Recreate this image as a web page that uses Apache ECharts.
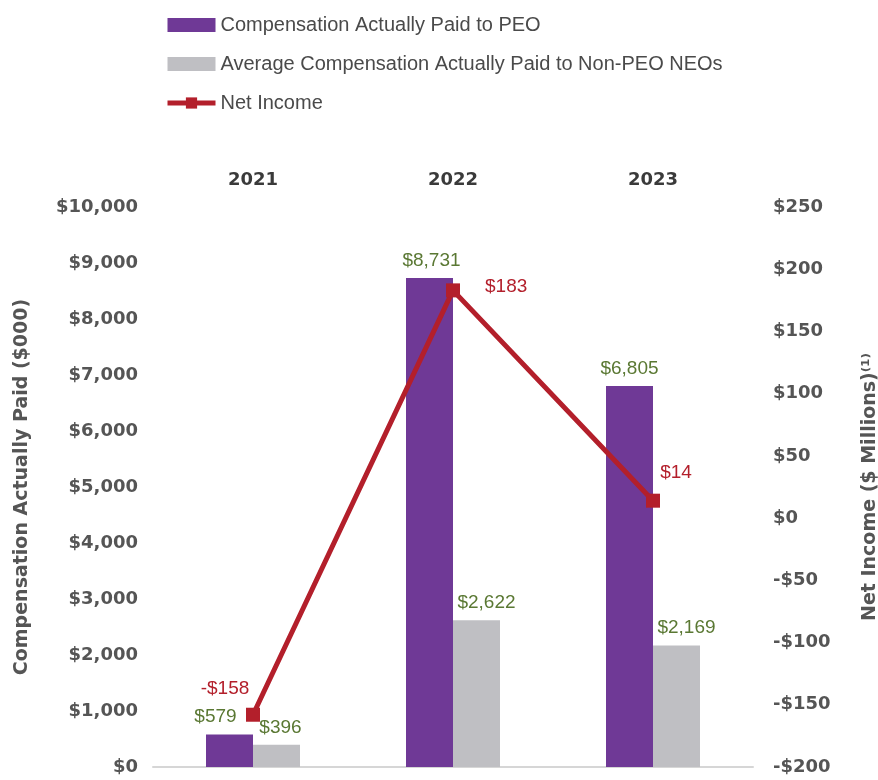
<!DOCTYPE html>
<html>
<head>
<meta charset="utf-8">
<script src="https://cdn.jsdelivr.net/npm/echarts@6/dist/echarts.min.js"></script>
<style>
  html, body { margin: 0; padding: 0; background: #fff; }
  #chart { width: 878px; height: 780px; }
</style>
</head>
<body>
<div id="chart"></div>
<script>
// data
const years = ['2021', '2022', '2023']
const peoPaid = [579, 8731, 6805]
const neoPaid = [396, 2622, 2169]
const netIncome = [-158, 183, 14]

const fontFamily = '"Liberation Sans", Arial, sans-serif'
const boldFamily = '"DejaVu Sans", sans-serif'
const green = '#5a7833'
const red = '#b31f2b'

// label nudges so they sit like the original
const peoLabelOffset = [[-14, 0], [2, 0], [0, 0]]
const neoLabelOffset = [[4, 0], [10, 0], [10, 0]]
const niLabelPos = [
  { position: 'top', offset: [-28, -4] },
  { position: 'right', offset: [20, -4] },
  { position: 'top', offset: [23, -6] },
]

const money = v => (v < 0 ? '-$' : '$') + Math.abs(v).toLocaleString('en-US')

const chart = echarts.init(document.getElementById('chart'))
chart.setOption({
  animation: false,
  textStyle: { fontFamily },
  legend: {
    orient: 'vertical',
    left: 160,
    top: 10,
    itemWidth: 48,
    itemHeight: 14,
    itemGap: 19,
    textStyle: { fontSize: 20, color: '#4a4a4a', fontFamily },
    data: [
      { name: 'Compensation Actually Paid to PEO', icon: 'rect' },
      { name: 'Average Compensation Actually Paid to Non-PEO NEOs', icon: 'rect' },
      { name: 'Net Income', lineStyle: { width: 5 } },
    ],
  },
  grid: { left: 153, right: 125, top: 207, bottom: 13, outerBoundsMode: 'none' },
  xAxis: [
    {
      type: 'category',
      data: years,
      position: 'top',
      axisLine: { show: false },
      axisTick: { show: false },
      axisLabel: { fontSize: 18, fontWeight: 'bold', color: '#3a3a3a', margin: 18, fontFamily: boldFamily },
    },
    {
      type: 'category',
      data: years,
      position: 'bottom',
      axisLine: { show: true, onZero: false, lineStyle: { color: '#d6d6d6', width: 2 } },
      axisTick: { show: false },
      axisLabel: { show: false },
    },
  ],
  yAxis: [
    {
      type: 'value',
      min: 0,
      max: 10000,
      interval: 1000,
      splitLine: { show: false },
      axisLabel: {
        fontSize: 18, fontWeight: 'bold', color: '#555', margin: 15, fontFamily: boldFamily,
        formatter: v => money(v),
      },
      name: 'Compensation Actually Paid ($000)',
      nameLocation: 'middle',
      nameRotate: 90,
      nameGap: 121,
      nameTextStyle: { fontSize: 19, fontWeight: 'bold', color: '#555', fontFamily: boldFamily },
    },
    {
      type: 'value',
      min: -200,
      max: 250,
      interval: 50,
      alignTicks: false,
      splitLine: { show: false },
      axisLabel: {
        fontSize: 18, fontWeight: 'bold', color: '#555', margin: 20, fontFamily: boldFamily,
        formatter: v => money(v),
      },
      name: 'Net Income ($ Millions)⁽¹⁾',
      nameLocation: 'middle',
      nameRotate: 90,
      nameGap: 108,
      nameTextStyle: { fontSize: 19, fontWeight: 'bold', color: '#555', fontFamily: boldFamily },
    },
  ],
  series: [
    {
      name: 'Compensation Actually Paid to PEO',
      type: 'bar',
      data: peoPaid.map((v, i) => ({ value: v, label: { offset: peoLabelOffset[i] } })),
      barWidth: 47,
      barGap: '0%',
      itemStyle: { color: '#6f3996' },
      label: {
        show: true, position: 'top', distance: 8, fontSize: 19, color: green,
        formatter: p => money(p.value),
      },
    },
    {
      name: 'Average Compensation Actually Paid to Non-PEO NEOs',
      type: 'bar',
      data: neoPaid.map((v, i) => ({ value: v, label: { offset: neoLabelOffset[i] } })),
      barWidth: 47,
      itemStyle: { color: '#bfbfc3' },
      label: {
        show: true, position: 'top', distance: 8, fontSize: 19, color: green,
        formatter: p => money(p.value),
      },
    },
    {
      name: 'Net Income',
      type: 'line',
      yAxisIndex: 1,
      data: netIncome.map((v, i) => ({ value: v, label: niLabelPos[i] })),
      symbol: 'rect',
      symbolSize: 14,
      lineStyle: { color: red, width: 5 },
      itemStyle: { color: red },
      z: 5,
      label: {
        show: true, fontSize: 19, color: red,
        formatter: p => money(p.value),
      },
    },
  ],
})
</script>
</body>
</html>
